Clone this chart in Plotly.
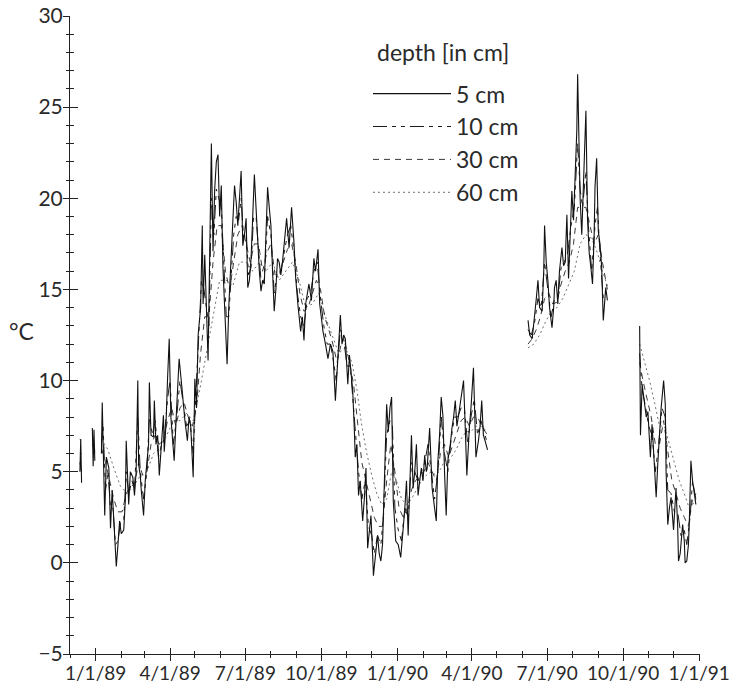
import datetime as dt
import plotly.graph_objects as go

# ---- data: day number relative to 1 Jan 1989, soil temperature in °C (None = gap) ----
days_5 = [-19, -18, -17, None,
          -4, -3, -2, -1, None,
          7, 8, 11, 13, 16, 18, 20, 22, 24, 25, 27, 29, 31, 34, 36, 37, 40, 42, 45, 47, 49, 51, 52, 54, 55,
          58, 60, 62, 64, 65, 67, 70, 71, 73, 75, 77, 80, 82, 83, 85, 87, 89, 91, 93, 95, 98, 101, 104, 106,
          108, 111, 113, 115, 118, 120, 122, 124, 127, 129, 130, 132, 134, 136, 138, 140, 142, 144, 146, 148,
          150, 152, 154, 156, 158, 159, 161, 164, 166, 168, 170, 172, 174, 176, 178, 180, 182, 184, 186, 188,
          190, 192, 194, 196, 198, 200, 202, 204, 206, 208, 210, 212, 214, 216, 218, 220, 222, 224, 226, 228,
          231, 234, 237, 240, 242, 245, 248, 250, 252, 254, 256, 258, 261, 264, 266, 269, 271, 273, 275, 278,
          281, 284, 287, 290, 292, 296, 298, 300, 302, 305, 307, 309, 311, 313, 314, 316, 318, 320, 323, 325,
          327, 329, 331, 333, 335, 336, 338, 341, 343, 345, 347, 348, 350, 352, 354, 356, 358, 360, 363, 366,
          369, 371, 372, 374, 376, 378, 380, 382, 384, 386, 388, 390, 392, 394, 396, 398, 400, 401, 404, 407,
          410, 412, 414, 416, 418, 420, 422, 424, 426, 429, 431, 433, 435, 437, 439, 442, 445, 447, 449, 452,
          454, 457, 460, 463, 465, 467, 469, 471, 474, None,
          523, 525, 528, 530, 531, 533, 535, 537, 540, 542, 543, 545, 547, 549, 552, 554, 555, 557, 559, 561,
          564, 566, 568, 570, 572, 574, 576, 578, 580, 582, 583, 585, 586, 588, 590, 593, 595, 597, 599, 601,
          603, 604, 606, 608, 610, 612, 614, 617, 619, None,
          658, 659, 661, 663, 664, 666, 668, 670, 671, 673, 676, 678, 680, 682, 684, 687, 689, 690, 692, 694,
          696, 699, 701, 702, 704, 705, 707, 710, 712, 713, 715, 717, 718, 720, 722, 724, 726]
temp_5 = [5.0, 6.8, 4.4, None,
          7.4, 5.3, 7.3, 5.6, None,
          6.0, 8.8, 2.6, 5.8, 5.2, 1.9, 4.0, 2.2, 0.0, -0.2, 1.0, 2.3, 1.6, 1.8, 3.5, 6.7, 3.2, 5.0, 4.7, 3.7, 5.0, 10.0, 5.4, 4.8, 4.1,
          2.6, 4.5, 5.5, 6.5, 9.9, 7.0, 6.9, 8.9, 6.5, 7.0, 4.8, 6.5, 8.1, 6.1, 7.5, 10.1, 12.3, 8.0, 6.5, 5.6, 8.5, 11.2, 9.8, 8.7,
          7.8, 6.7, 8.0, 7.5, 4.7, 10.1, 8.5, 12.5, 14.0, 18.5, 14.2, 16.9, 13.5, 11.1, 17.0, 23.0, 17.1, 20.5, 22.0, 22.4,
          19.0, 20.7, 16.2, 14.0, 12.5, 10.9, 14.0, 17.1, 19.0, 20.7, 19.8, 18.5, 20.0, 21.5, 17.4, 18.0, 18.9, 15.1, 15.5, 16.7,
          19.0, 21.3, 19.5, 17.4, 16.0, 14.9, 15.5, 15.3, 18.0, 20.6, 19.5, 18.5, 16.0, 13.8, 15.0, 16.7, 16.5, 15.8, 16.5, 17.4,
          18.9, 17.3, 19.5, 17.5, 15.6, 14.0, 12.7, 13.5, 12.2, 14.2, 14.8, 15.3, 14.4, 16.7, 16.0, 17.2, 14.2, 13.5, 12.7, 12.0,
          11.2, 12.0, 11.6, 8.9, 10.7, 13.6, 12.0, 12.5, 12.3, 9.8, 11.4, 10.5, 9.4, 7.2, 5.8, 6.5, 3.7, 4.5, 2.3, 3.5,
          5.2, 0.8, 1.8, 2.6, 0.5, -0.7, 0.2, 1.5, 0.5, 0.1, 1.0, 2.5, 5.5, 8.7, 7.2, 8.5, 9.1, 3.4, 1.2, 1.0,
          0.3, 1.2, 1.9, 3.0, 4.5, 1.5, 4.0, 7.0, 4.1, 5.0, 6.5, 3.7, 4.5, 5.2, 4.5, 5.9, 5.0, 5.2, 7.4, 4.1,
          3.0, 2.3, 5.6, 7.0, 9.1, 8.1, 5.0, 2.6, 5.6, 6.5, 7.4, 8.0, 8.9, 7.5, 8.1, 9.0, 10.0, 7.5, 4.8, 7.4,
          8.5, 10.7, 5.8, 6.7, 7.5, 8.9, 7.0, 6.7, 6.2, None,
          13.3, 12.5, 12.3, 13.0, 13.6, 14.5, 15.5, 14.0, 13.8, 16.0, 18.5, 16.5, 15.5, 14.0, 12.9, 14.0, 15.1, 15.5, 14.2, 16.0,
          17.3, 16.3, 16.5, 19.1, 15.6, 18.0, 20.4, 18.8, 21.0, 23.7, 26.8, 21.8, 20.0, 18.0, 21.0, 24.8, 18.8, 17.0, 16.2, 15.3,
          18.0, 20.6, 22.2, 18.2, 17.5, 16.3, 13.3, 15.1, 14.4, None,
          13.0, 7.0, 9.8, 9.0, 8.7, 8.0, 8.3, 6.5, 5.8, 7.6, 5.5, 3.6, 5.5, 7.2, 8.5, 10.0, 8.7, 5.0, 2.1, 3.0,
          3.6, 1.8, 3.0, 4.1, 2.0, 0.1, 0.5, 2.1, 1.2, 0.0, 0.1, 1.0, 2.1, 5.6, 4.5, 3.9, 3.2]

days_10 = [-19, -17, None, -4, -2, -1, None,
           7, 9, 12, 15, 18, 21, 24, 27, 30, 34, 37, 40, 44, 47, 51, 54, 58, 62, 65, 69, 72, 76, 80, 83, 87, 90,
           94, 98, 102, 106, 110, 114, 118, 121, 124, 128, 131, 134, 137, 140, 143, 146, 149, 152, 155, 158, 161,
           164, 167, 170, 173, 176, 179, 182, 185, 188, 191, 194, 197, 200, 204, 208, 212, 216, 220, 224, 228,
           232, 236, 240, 244, 248, 252, 256, 260, 264, 268, 272, 276, 280, 284, 288, 291, 296, 300, 304, 308,
           312, 315, 318, 322, 326, 330, 334, 337, 341, 345, 348, 352, 356, 359, 362, 366, 370, 374, 378, 382,
           386, 390, 394, 398, 402, 406, 410, 414, 418, 422, 426, 430, 434, 438, 442, 446, 450, 454, 458, 462,
           466, 470, 474, None,
           523, 527, 531, 535, 539, 543, 547, 551, 555, 559, 563, 567, 571, 575, 579, 583, 586, 589, 593, 596,
           600, 604, 607, 610, 614, 619, None,
           658, 661, 665, 669, 673, 677, 681, 685, 689, 692, 696, 700, 704, 708, 712, 715, 719, 722, 726]
temp_10 = [5.5, 5.0, None, 6.8, 6.5, 6.0, None,
           6.5, 7.5, 4.0, 5.0, 3.0, 3.0, 1.0, 1.2, 2.2, 2.3, 5.0, 3.8, 4.5, 4.0, 8.0, 5.0, 3.5, 5.0, 8.0, 7.0, 7.8, 5.8, 6.5, 6.8, 9.0, 10.0,
           6.5, 8.0, 10.0, 8.8, 7.5, 7.8, 6.0, 9.0, 11.5, 15.5, 15.0, 14.0, 13.0, 20.0, 18.0, 20.5, 20.0, 19.5, 16.5, 13.5, 13.5,
           16.0, 18.0, 19.0, 18.8, 20.0, 17.8, 18.0, 15.8, 16.2, 19.0, 19.0, 17.0, 15.5, 15.5, 19.0, 18.0, 14.8, 16.0, 16.0, 17.0,
           18.0, 18.5, 17.0, 14.8, 13.5, 13.0, 14.5, 14.8, 16.0, 16.5, 14.5, 13.0, 12.0, 12.0, 11.0, 10.0, 12.8, 12.3, 10.8, 10.8,
           8.5, 6.5, 5.0, 3.5, 4.5, 2.0, 1.5, 0.5, 1.5, 1.0, 2.5, 7.0, 7.8, 7.5, 3.0, 1.8, 1.2, 3.0, 2.5, 5.5,
           5.0, 4.5, 5.0, 5.5, 6.5, 5.0, 3.5, 5.0, 8.0, 6.0, 5.0, 6.8, 8.0, 8.0, 8.5, 8.5, 6.5, 8.0, 9.0, 7.0,
           7.8, 7.2, 6.5, None,
           12.8, 12.5, 13.2, 14.5, 14.0, 16.5, 15.0, 13.5, 14.5, 14.5, 16.2, 16.5, 17.0, 18.5, 19.5, 23.0, 20.5, 19.5, 21.5, 18.5,
           16.0, 18.5, 19.5, 17.0, 14.5, 14.6, None,
           11.5, 9.5, 8.6, 7.5, 7.0, 5.0, 6.5, 8.5, 8.0, 4.0, 3.8, 2.8, 2.8, 1.5, 1.8, 1.0, 2.5, 4.5, 3.5]

days_30 = [-19, -17, None, -4, -1, None,
           7, 12, 17, 22, 27, 32, 37, 42, 47, 52, 57, 62, 67, 72, 77, 82, 87, 92, 97, 102, 107, 112, 117, 122,
           127, 132, 137, 142, 147, 152, 157, 162, 167, 172, 177, 182, 187, 192, 197, 202, 207, 212, 217, 222,
           227, 232, 237, 242, 247, 252, 257, 262, 267, 272, 277, 282, 287, 292, 297, 302, 307, 312, 317, 322,
           327, 332, 337, 342, 347, 352, 357, 362, 367, 372, 377, 382, 387, 392, 397, 402, 407, 412, 417, 422,
           427, 432, 437, 442, 447, 452, 457, 462, 467, 474, None,
           523, 528, 533, 538, 543, 548, 553, 558, 563, 568, 573, 578, 583, 588, 593, 598, 603, 608, 613, 619, None,
           658, 662, 667, 672, 677, 682, 687, 692, 697, 702, 707, 712, 717, 722, 726]
temp_30 = [6.0, 6.0, None, 6.5, 6.2, None,
           6.3, 5.5, 4.5, 3.5, 2.8, 2.8, 3.8, 4.2, 4.3, 5.5, 4.8, 5.0, 6.5, 7.0, 6.5, 6.8, 7.8, 8.5, 7.5, 8.5, 8.8, 8.0, 7.5, 8.5,
           11.5, 13.5, 13.5, 16.5, 18.5, 18.5, 16.0, 15.0, 16.5, 18.0, 18.5, 17.5, 16.5, 17.5, 17.5, 16.0, 17.0, 17.5, 15.8, 15.8,
           16.5, 17.2, 17.5, 16.5, 14.8, 13.8, 14.0, 14.8, 15.5, 15.0, 13.5, 12.8, 12.0, 11.0, 12.0, 12.0, 11.0, 9.8, 7.5, 5.5,
           4.5, 3.5, 2.5, 2.0, 2.0, 4.5, 6.5, 5.0, 3.0, 2.5, 3.0, 4.0, 4.5, 4.8, 5.0, 5.5, 5.0, 4.5, 6.0, 6.5,
           5.8, 6.5, 7.2, 7.8, 8.0, 7.5, 8.0, 8.0, 7.5, 7.0, None,
           12.0, 12.3, 12.8, 13.5, 14.5, 14.8, 14.2, 14.3, 15.3, 16.0, 16.5, 17.5, 19.5, 19.5, 19.5, 18.5, 17.5, 18.0, 16.5, 15.0, None,
           11.0, 10.0, 9.0, 8.0, 6.5, 6.5, 7.8, 6.0, 4.5, 3.8, 3.0, 2.5, 2.0, 3.5, 3.8]

days_60 = [-19, -17, None, -4, -1, None,
           7, 15, 22, 30, 38, 46, 54, 62, 70, 78, 86, 94, 102, 110, 118, 126, 134, 142, 150, 158, 166, 174, 182,
           190, 198, 206, 214, 222, 230, 238, 246, 254, 262, 270, 278, 286, 294, 302, 310, 316, 322, 328, 334,
           340, 346, 352, 358, 364, 370, 376, 382, 388, 394, 400, 406, 412, 418, 424, 430, 436, 442, 448, 454,
           460, 466, 474, None,
           523, 530, 537, 544, 551, 558, 565, 572, 579, 586, 593, 600, 607, 613, 619, None,
           658, 664, 670, 676, 682, 688, 694, 700, 706, 712, 718, 722, 726]
temp_60 = [6.8, 6.6, None, 7.0, 6.8, None,
           6.8, 6.2, 5.2, 4.2, 3.8, 4.2, 4.8, 5.0, 6.0, 6.3, 7.0, 7.8, 7.8, 8.2, 7.8, 9.5, 11.5, 13.5, 15.5, 15.5, 15.2, 16.5, 16.5,
           16.0, 16.5, 16.0, 16.5, 15.5, 16.0, 16.5, 15.5, 14.0, 14.2, 14.8, 13.5, 12.5, 11.5, 11.8, 11.0, 9.5, 7.5, 6.0, 4.8,
           3.8, 3.2, 3.5, 5.0, 4.5, 3.5, 3.2, 3.5, 4.0, 4.5, 4.8, 5.0, 4.8, 5.2, 5.8, 5.8, 6.2, 6.8, 7.2, 7.2,
           7.5, 7.5, 7.2, None,
           11.8, 12.0, 12.5, 13.2, 13.8, 14.0, 14.5, 15.2, 16.0, 17.5, 18.0, 17.8, 17.0, 16.0, 15.2, None,
           12.0, 11.0, 10.0, 8.8, 7.5, 7.5, 6.5, 5.5, 4.5, 3.8, 3.0, 3.2, 3.5]

labels = ["5 cm", "10 cm", "30 cm", "60 cm"]
legend_title = "depth [in cm]"
y_title = "°C"

BASE = dt.datetime(1989, 1, 1)


def to_dates(days):
    return [None if d is None else BASE + dt.timedelta(days=d) for d in days]


FONT = "Lato, 'Open Sans', sans-serif"
TXT = "#2a2a2a"
AX = "#222222"

series = [
    (days_60, temp_60, labels[3], "#6d6d6d", "2px,3px", 1.0, 4),
    (days_30, temp_30, labels[2], "#3a3a3a", "6px,5px", 1.0, 3),
    (days_10, temp_10, labels[1], "#1a1a1a", "14px,5px,4px,5px,4px,5px", 1.0, 2),
    (days_5, temp_5, labels[0], "#111111", "solid", 1.1, 1),
]

fig = go.Figure()
for d, t, name, col, dash, w, rank in series:
    fig.add_trace(go.Scatter(
        x=to_dates(d), y=t, mode="lines", name=name,
        line=dict(color=col, width=w, dash=dash),
        connectgaps=False, legendrank=rank, legendgroup=name,
    ))

# invisible helper trace so that the overlay axes (inward half of the crossing ticks) are drawn
fig.add_trace(go.Scatter(x=[None], y=[None], xaxis="x2", yaxis="y2",
                         showlegend=False, hoverinfo="skip"))

xrange = ["1988-12-01", "1991-01-02"]
yrange = [-5, 30]

common_x = dict(type="date", range=xrange, tick0="1989-01-01", dtick="M3",
                showgrid=False, zeroline=False, automargin=False)
common_y = dict(range=yrange, tick0=0, dtick=5, showgrid=False, zeroline=False, automargin=False)

fig.update_layout(
    width=729, height=691,
    margin=dict(l=70, r=29, t=16, b=37),
    paper_bgcolor="white", plot_bgcolor="rgba(0,0,0,0)",
    font=dict(family=FONT, size=21, color=TXT),
    showlegend=True,
    legend=dict(
        x=0.473, xanchor="left", y=0.912, yanchor="top",
        bgcolor="rgba(0,0,0,0)", borderwidth=0,
        font=dict(size=23, color=TXT), itemwidth=78, tracegroupgap=3,
        traceorder="normal",
    ),
    xaxis=dict(**common_x, tickformat="%-m/%-d/%y", ticklabeloverflow="allow",
               ticklabelstandoff=-4,
               showline=True, linecolor=AX, linewidth=1,
               ticks="outside", ticklen=6, tickwidth=1, tickcolor=AX,
               tickfont=dict(size=19, color=TXT),
               minor=dict(dtick="M1", ticks="outside", ticklen=3, tickwidth=1, tickcolor=AX)),
    yaxis=dict(**common_y, showline=True, linecolor=AX, linewidth=1,
               ticklabelstandoff=-4,
               ticks="outside", ticklen=6, tickwidth=1, tickcolor=AX,
               tickfont=dict(size=21, color=TXT),
               minor=dict(dtick=1, ticks="outside", ticklen=3, tickwidth=1, tickcolor=AX)),
    xaxis2=dict(**common_x, overlaying="x", anchor="y2", showline=False, showticklabels=False,
                ticks="inside", ticklen=6, tickwidth=1, tickcolor=AX,
                minor=dict(dtick="M1", ticks="inside", ticklen=3, tickwidth=1, tickcolor=AX)),
    yaxis2=dict(**common_y, overlaying="y", anchor="x2", showline=False, showticklabels=False,
                ticks="inside", ticklen=8, tickwidth=1, tickcolor=AX,
                minor=dict(dtick=1, ticks="inside", ticklen=4, tickwidth=1, tickcolor=AX)),
    annotations=[
        dict(text=y_title, xref="paper", yref="paper", x=-0.1, y=0.507,
             xanchor="left", yanchor="middle", showarrow=False,
             font=dict(size=23, color=TXT)),
        dict(text=legend_title, xref="paper", yref="paper", x=0.484, y=0.944,
             xanchor="left", yanchor="middle", showarrow=False,
             font=dict(size=23, color=TXT)),
    ],
)

# remove the default 8px page margin so the figure fills the window exactly
fig.write_html("out.html", config={"displayModeBar": False},
               post_script="document.body.style.margin='0';document.body.style.padding='0';")
